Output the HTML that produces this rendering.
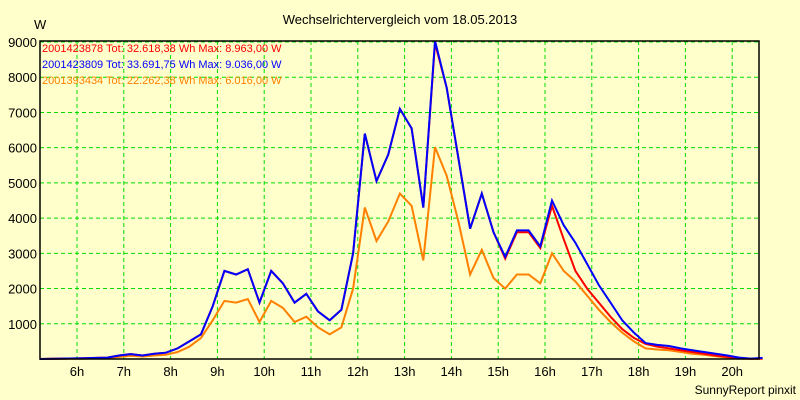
<!DOCTYPE html>
<html><head><meta charset="utf-8"><style>
body{margin:0;background:#ffffcc;}
svg{display:block;font-family:"Liberation Sans",sans-serif;}
</style></head><body>
<svg id="chart" width="800" height="400" xmlns="http://www.w3.org/2000/svg">
<rect x="0" y="0" width="800" height="400" fill="#ffffcc"/>
<text x="400" y="24" text-anchor="middle" font-size="13" fill="#000">Wechselrichtervergleich vom 18.05.2013</text>
<text x="34" y="29" font-size="13" fill="#000">W</text>
<g id="grid"></g>
<g id="yticks"></g>
<g id="xticks"></g>
<g id="series"></g>
<rect x="40" y="41" width="719" height="318" fill="none" stroke="#000" stroke-width="1.5"/>
<g font-size="11">
<text x="42" y="52" fill="#ff0000">2001423878 Tot: 32.618,38 Wh Max: 8.963,00 W</text>
<text x="42" y="68" fill="#0000ff">2001423809 Tot: 33.691,75 Wh Max: 9.036,00 W</text>
<text x="42" y="84" fill="#ff8000">2001393434 Tot: 22.262,38 Wh Max: 6.016,00 W</text>
</g>
<text x="796" y="394" text-anchor="end" font-size="12" fill="#000">SunnyReport pinxit</text>
</svg>
<script>
const times=[5.2,6.15,6.4,6.65,6.9,7.15,7.4,7.65,7.9,8.15,8.4,8.65,8.9,9.15,9.4,9.65,9.9,10.15,10.4,10.65,10.9,11.15,11.4,11.65,11.9,12.15,12.4,12.65,12.9,13.15,13.4,13.65,13.9,14.15,14.4,14.65,14.9,15.15,15.4,15.65,15.9,16.15,16.4,16.65,16.9,17.15,17.4,17.65,17.9,18.15,18.4,18.65,18.9,19.15,19.4,19.65,19.9,20.15,20.4,20.65];
const blueVals=[0,20,30,40,100,140,100,150,180,300,500,700,1500,2500,2400,2550,1600,2500,2150,1600,1850,1350,1100,1400,3000,6400,5050,5800,7100,6550,4300,9036,7700,5700,3700,4700,3600,2900,3650,3650,3200,4500,3800,3300,2700,2100,1600,1100,750,450,400,370,300,250,200,150,100,40,10,30];
const redVals=[0,20,30,40,100,140,100,150,180,300,500,700,1500,2500,2400,2550,1600,2500,2150,1600,1850,1350,1100,1400,3000,6400,5050,5800,7100,6550,4300,8963,7700,5700,3700,4700,3600,2850,3600,3600,3150,4350,3400,2500,2000,1600,1200,850,600,430,350,300,250,200,150,100,60,20,5,10];
const orangeVals=[0,10,20,30,60,90,70,100,120,200,350,600,1100,1650,1600,1700,1050,1650,1450,1050,1200,900,700,900,2000,4300,3350,3900,4700,4350,2800,6016,5200,3900,2400,3100,2300,2000,2400,2400,2150,3000,2500,2200,1800,1400,1050,750,500,300,270,250,200,150,120,80,40,10,5,5];
const yTicks=[1000,2000,3000,4000,5000,6000,7000,8000,9000];
const xTicks=[6,7,8,9,10,11,12,13,14,15,16,17,18,19,20];
const xTickLabels=["6h","7h","8h","9h","10h","11h","12h","13h","14h","15h","16h","17h","18h","19h","20h"];
const NS="http://www.w3.org/2000/svg";
function xs(h){return 77+(h-6)*46.8;}
function ys(v){return 359-v*(317/9000);}
const grid=document.getElementById('grid'),yt=document.getElementById('yticks'),xt=document.getElementById('xticks'),ser=document.getElementById('series');
yTicks.forEach(v=>{
 const l=document.createElementNS(NS,'line');
 
 
 l.setAttribute('x1',40);l.setAttribute('x2',759);l.setAttribute('y1',ys(v));l.setAttribute('y2',ys(v));
 l.setAttribute('stroke','#00dd00');l.setAttribute('stroke-dasharray','4,3');grid.appendChild(l);
 const t=document.createElementNS(NS,'text');
 
 
 t.setAttribute('x',37);t.setAttribute('y',ys(v)+5);t.setAttribute('text-anchor','end');t.setAttribute('font-size','13');
 t.textContent=v;yt.appendChild(t);
});
xTicks.forEach((h,i)=>{
 const l=document.createElementNS(NS,'line');
 
 
 l.setAttribute('x1',xs(h));l.setAttribute('x2',xs(h));l.setAttribute('y1',41);l.setAttribute('y2',359);
 l.setAttribute('stroke','#00dd00');l.setAttribute('stroke-dasharray','4,3');grid.appendChild(l);
 const t=document.createElementNS(NS,'text');
 
 
 t.setAttribute('x',xs(h));t.setAttribute('y',376);t.setAttribute('text-anchor','middle');t.setAttribute('font-size','13');
 t.textContent=xTickLabels[i];xt.appendChild(t);
});
function line(vals,color,name){
 const p=document.createElementNS(NS,'polyline');
 
 
 p.setAttribute('points',vals.map((v,i)=>xs(times[i]).toFixed(1)+','+ys(v).toFixed(1)).join(' '));
 p.setAttribute('fill','none');p.setAttribute('stroke',color);p.setAttribute('stroke-width','2');
 ser.appendChild(p);
}
line(orangeVals,'#ff8000','series-orange');
line(redVals,'#ff0000','series-red');
line(blueVals,'#0000ff','series-blue');
</script>
</body></html>
